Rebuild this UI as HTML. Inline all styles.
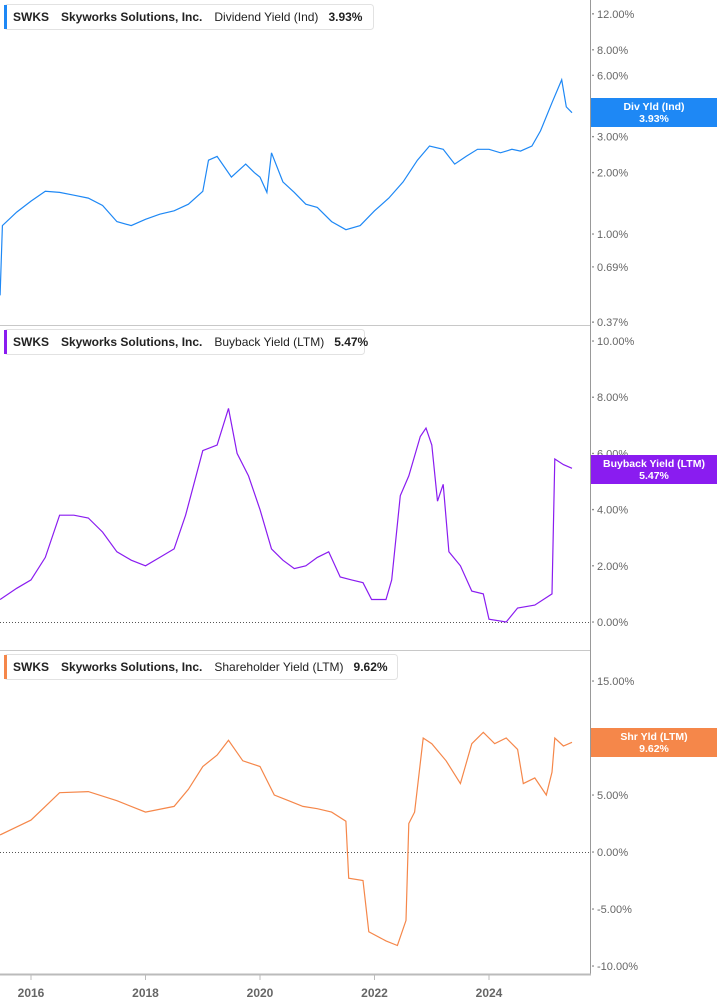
<!DOCTYPE html>
<html><head><meta charset="utf-8"><style>
body{margin:0;background:#fff;font-family:"Liberation Sans",sans-serif}
svg{display:block}
</style></head><body>
<svg id="c" width="717" height="1005" xmlns="http://www.w3.org/2000/svg"></svg>
<script>
const divT=[2015.46,2015.5,2015.75,2016,2016.25,2016.5,2016.75,2017,2017.25,2017.5,2017.75,2018,2018.25,2018.5,2018.75,2019,2019.1,2019.25,2019.5,2019.75,2019.9,2020,2020.12,2020.2,2020.4,2020.6,2020.8,2021,2021.25,2021.5,2021.75,2022,2022.25,2022.5,2022.75,2022.96,2023.2,2023.4,2023.6,2023.8,2024,2024.2,2024.4,2024.55,2024.75,2024.9,2025.1,2025.27,2025.35,2025.45];
const divV=[0.5,1.1,1.28,1.45,1.62,1.6,1.55,1.5,1.38,1.15,1.1,1.18,1.25,1.3,1.4,1.62,2.3,2.4,1.9,2.2,2.0,1.9,1.6,2.5,1.8,1.6,1.4,1.35,1.15,1.05,1.1,1.3,1.5,1.8,2.3,2.7,2.6,2.2,2.4,2.6,2.6,2.5,2.6,2.55,2.7,3.2,4.4,5.7,4.2,3.93];
const bbT=[2015.46,2015.75,2016,2016.25,2016.5,2016.75,2017,2017.25,2017.5,2017.75,2018,2018.25,2018.5,2018.7,2019,2019.25,2019.45,2019.6,2019.8,2020,2020.2,2020.4,2020.6,2020.8,2021,2021.2,2021.4,2021.6,2021.8,2021.95,2022.2,2022.3,2022.45,2022.6,2022.8,2022.9,2023,2023.1,2023.2,2023.3,2023.5,2023.7,2023.9,2024,2024.3,2024.5,2024.8,2025.1,2025.15,2025.3,2025.45];
const bbV=[0.8,1.2,1.5,2.3,3.8,3.8,3.7,3.2,2.5,2.2,2.0,2.3,2.6,3.8,6.1,6.3,7.6,6.0,5.2,4.0,2.6,2.2,1.9,2.0,2.3,2.5,1.6,1.5,1.4,0.8,0.8,1.5,4.5,5.2,6.6,6.9,6.3,4.3,4.9,2.5,2.0,1.1,1.0,0.1,0.0,0.5,0.6,1.0,5.8,5.6,5.47];
const shT=[2015.46,2015.75,2016,2016.25,2016.5,2017,2017.5,2018,2018.5,2018.75,2019,2019.25,2019.45,2019.7,2020,2020.25,2020.5,2020.75,2021,2021.25,2021.5,2021.55,2021.8,2021.9,2022.2,2022.4,2022.55,2022.6,2022.7,2022.85,2023,2023.25,2023.5,2023.7,2023.9,2024.1,2024.3,2024.5,2024.6,2024.8,2025,2025.1,2025.15,2025.3,2025.45];
const shV=[1.5,2.2,2.8,4.0,5.2,5.3,4.5,3.5,4.0,5.5,7.5,8.5,9.8,8.0,7.5,5.0,4.5,4.0,3.8,3.5,2.7,-2.3,-2.5,-7,-7.8,-8.2,-6,2.5,3.5,10,9.5,8,6.0,9.5,10.5,9.5,10,9,6,6.5,5,7,10,9.3,9.62];
const years=[2016,2018,2020,2022,2024];
const divTicks=[12,8,6,3,2,1,0.69,0.37];
const bbTicks=[10,8,6,4,2,0];
const shTicks=[15,10,5,0,-5,-10];

const S=document.getElementById('c'),NS='http://www.w3.org/2000/svg';
function el(t,a,p){const e=document.createElementNS(NS,t);for(const k in a)e.setAttribute(k,a[k]);(p||S).appendChild(e);return e;}
const X=t=>31+(t-2016)*57.25;
const yDiv=v=>234-Math.log10(v)*204;
const yBb=v=>622-v*28.1;
const ySh=v=>852-v*11.4;

// separators & axis
let g=el('g',{});
el('line',{x1:0,x2:590,y1:325.5,y2:325.5,stroke:'#c8c8c8'},g);
el('line',{x1:0,x2:590,y1:650.5,y2:650.5,stroke:'#c8c8c8'},g);
el('line',{x1:590.5,x2:590.5,y1:0,y2:975,stroke:'#999'},g);
el('line',{x1:0,x2:591,y1:974.5,y2:974.5,stroke:'#bbb','stroke-width':2},g);
el('line',{x1:0,x2:590,y1:622.5,y2:622.5,stroke:'#555','stroke-dasharray':'1,2'},g);
el('line',{x1:0,x2:590,y1:852.5,y2:852.5,stroke:'#555','stroke-dasharray':'1,2'},g);

function ticks(arr,fy,name){
  const gg=el('g',{});
  arr.forEach(v=>{const y=fy(v);
    el('circle',{cx:593,cy:y,r:0.8,fill:'#666'},gg);
    const t=el('text',{x:597,y:y+4,'font-size':11,fill:'#666'},gg);t.textContent=v.toFixed(2)+'%';
    });
}
ticks(divTicks,yDiv,'div-y-axis');ticks(bbTicks,yBb,'bb-y-axis');ticks(shTicks,ySh,'sh-y-axis');
years.forEach(yr=>{const x=X(yr);el('line',{x1:x,x2:x,y1:975,y2:980,stroke:'#bbb'});
  const t=el('text',{x:x,y:997,'font-size':12,'font-weight':'bold',fill:'#666','text-anchor':'middle'});t.textContent=yr;
  });

function line(T,V,fy,col,name){
  const d=T.map((t,i)=>(i?'L':'M')+X(t).toFixed(1)+','+fy(V[i]).toFixed(1)).join('');
  const p=el('path',{d:d,fill:'none',stroke:col,'stroke-width':1.2});
  
}
line(divT,divV,yDiv,'#1e88f5','dividend-yield-line');
line(bbT,bbV,yBb,'#8a1cf0','buyback-yield-line');
line(shT,shV,ySh,'#f5874a','shareholder-yield-line');

function legend(y,col,metric,val,w,name){
  const gg=el('g',{});
  el('rect',{x:4.5,y:y+0.5,width:w,height:25,rx:3,fill:'#fff',stroke:'#e2e2e2'},gg);
  el('rect',{x:4,y:y+1,width:3,height:24,fill:col},gg);
  const t=el('text',{x:13,y:y+17,'font-size':12,'font-weight':'bold',fill:'#222'},gg);
  t.innerHTML='SWKS<tspan dx="12">Skyworks Solutions, Inc.</tspan><tspan dx="12" font-weight="normal">'+metric+'</tspan><tspan dx="10">'+val+'</tspan>';
}
legend(4,'#1e88f5','Dividend Yield (Ind)','3.93%',369,'legend-dividend');
legend(329,'#8a1cf0','Buyback Yield (LTM)','5.47%',360,'legend-buyback');
legend(654,'#f5874a','Shareholder Yield (LTM)','9.62%',393,'legend-shareholder');

function badge(y,col,l1,l2,name){
  const gg=el('g',{});
  el('rect',{x:591,y:y,width:126,height:29,fill:col},gg);
  const a=el('text',{x:654,y:y+12,'font-size':10.5,'font-weight':'bold',fill:'#fff','text-anchor':'middle'},gg);a.textContent=l1;
  const b=el('text',{x:654,y:y+24,'font-size':10.5,'font-weight':'bold',fill:'#fff','text-anchor':'middle'},gg);b.textContent=l2;
}
badge(98,'#1e88f5','Div Yld (Ind)','3.93%','div-badge');
badge(455,'#8a1cf0','Buyback Yield (LTM)','5.47%','bb-badge');
badge(728,'#f5874a','Shr Yld (LTM)','9.62%','sh-badge');
</script>
</body></html>
